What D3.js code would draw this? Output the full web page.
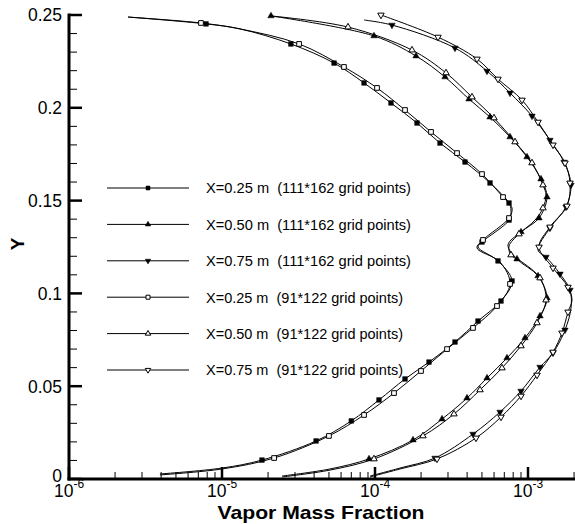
<!DOCTYPE html>
<html><head><meta charset="utf-8">
<script src="https://cdn.jsdelivr.net/npm/d3@7"></script>
<style>
body{margin:0;background:#fff}
svg{display:block}
text{font-family:"Liberation Sans",Arial,Helvetica,sans-serif;fill:#000}
</style>
</head><body>
<svg id="c" width="575" height="524"></svg>
<script>
// ---------- data ----------
const xDomain = [1e-6, 2e-3];
const yDomain = [0, 0.25];
const yTickValues = [0, 0.05, 0.1, 0.15, 0.2, 0.25];
const yTickLabels = ["0", "0.05", "0.1", "0.15", "0.2", "0.25"];
const xTickValues = [1e-6, 1e-5, 1e-4, 1e-3];
const xTickExponents = ["-6", "-5", "-4", "-3"];
const xAxisTitle = "Vapor Mass Fraction";
const yAxisTitle = "Y";
const legendLabels = [
  "X=0.25 m  (111*162 grid points)",
  "X=0.50 m  (111*162 grid points)",
  "X=0.75 m  (111*162 grid points)",
  "X=0.25 m  (91*122 grid points)",
  "X=0.50 m  (91*122 grid points)",
  "X=0.75 m  (91*122 grid points)"
];
// [vapor mass fraction, Y, symbol shown]
const x025fine = [
  [3.93e-6,0.0027,0],[1.0e-5,0.0059,0],[1.825e-5,0.0102,1],[4.12e-5,0.0205,1],[7.0e-5,0.0313,1],
  [1.062e-4,0.0426,1],[1.571e-4,0.0539,1],[2.254e-4,0.0630,1],[3.334e-4,0.0738,1],[4.713e-4,0.0851,1],
  [6.661e-4,0.0959,1],[7.862e-4,0.1067,1],[6.367e-4,0.1175,1],[4.713e-4,0.1250,0],[5.005e-4,0.1277,1],
  [7.514e-4,0.1395,1],[7.744e-4,0.1449,0],[7.514e-4,0.1487,1],[5.646e-4,0.1595,1],[3.875e-4,0.1708,1],
  [2.660e-4,0.1810,1],[1.882e-4,0.1918,1],[1.272e-4,0.2026,1],[8.48e-5,0.2134,1],[5.40e-5,0.2241,1],
  [2.82e-5,0.2344,1],[1.311e-5,0.2425,0],[7.86e-6,0.2452,1],[2.43e-6,0.2489,0]
];
const x050fine = [
  [2.47e-5,0.0016,0],[5.08e-5,0.0054,0],[9.14e-5,0.0108,1],[1.772e-4,0.0210,1],[2.742e-4,0.0323,1],
  [3.994e-4,0.0436,1],[5.397e-4,0.0544,1],[7.291e-4,0.0652,1],[9.559e-4,0.0760,1],[1.198e-3,0.0878,1],
  [1.331e-3,0.0975,1],[1.163e-3,0.1094,1],[8.476e-4,0.1185,1],[7.402e-4,0.1261,0],[9.002e-4,0.1331,1],
  [1.180e-3,0.1406,1],[1.331e-3,0.1519,1],[1.216e-3,0.1616,1],[9.85e-4,0.1735,1],[7.629e-4,0.1843,1],
  [5.646e-4,0.1950,1],[4.116e-4,0.2047,1],[2.868e-4,0.2166,1],[1.854e-4,0.2279,1],[9.85e-5,0.2387,1],
  [2.09e-5,0.2495,1]
];
const x075fine = [
  [9.28e-5,0.0016,0],[1.457e-4,0.0059,0],[2.467e-4,0.0113,1],[4.371e-4,0.0242,1],[6.562e-4,0.0361,1],
  [9.002e-4,0.0474,1],[1.198e-3,0.0603,1],[1.457e-3,0.0679,1],[1.745e-3,0.0803,1],[1.910e-3,0.0921,0],
  [1.881e-3,0.1018,1],[1.619e-3,0.1105,1],[1.311e-3,0.1196,1],[1.163e-3,0.1234,0],[1.392e-3,0.1352,1],
  [1.772e-3,0.1466,1],[1.910e-3,0.1584,1],[1.720e-3,0.1708,1],[1.392e-3,0.1826,1],[1.062e-3,0.1956,1],
  [7.629e-4,0.2080,1],[5.397e-4,0.2198,1],[3.334e-4,0.2322,1],[1.291e-4,0.2446,1],[8.48e-5,0.2473,0]
];
const x025coarse = [
  [3.93e-6,0.0022,0],[1.0e-5,0.0054,0],[2.19e-5,0.0113,1],[5.00e-5,0.0232,1],[8.48e-5,0.0345,1],
  [1.331e-4,0.0463,1],[1.998e-4,0.0582,1],[2.956e-4,0.0700,1],[4.371e-4,0.0814,1],[6.272e-4,0.0932,1],
  [7.629e-4,0.1051,1],[6.562e-4,0.1169,0],[4.642e-4,0.1245,0],[5.081e-4,0.1288,1],[7.514e-4,0.1406,1],
  [7.862e-4,0.1460,0],[6.865e-4,0.1519,1],[5.005e-4,0.1643,1],[3.436e-4,0.1756,1],[2.323e-4,0.1870,1],
  [1.571e-4,0.1988,1],[1.031e-4,0.2107,1],[6.27e-5,0.2220,1],[3.19e-5,0.2344,1],[1.311e-5,0.2425,0],
  [7.29e-6,0.2457,1],[2.43e-6,0.2489,0]
];
const x050coarse = [
  [2.47e-5,0.0011,0],[5.08e-5,0.0048,0],[9.85e-5,0.0108,1],[2.059e-4,0.0232,1],[3.283e-4,0.0350,1],
  [4.858e-4,0.0480,1],[6.763e-4,0.0598,1],[9.002e-4,0.0717,1],[1.145e-3,0.0841,1],[1.311e-3,0.0964,1],
  [1.198e-3,0.1083,1],[9.139e-4,0.1169,0],[7.744e-4,0.1207,1],[7.514e-4,0.1255,0],[8.735e-4,0.1320,1],
  [1.111e-3,0.1395,0],[1.253e-3,0.1460,1],[1.311e-3,0.1530,0],[1.253e-3,0.1584,1],[1.062e-3,0.1703,1],
  [8.225e-4,0.1816,1],[5.995e-4,0.1945,1],[4.306e-4,0.2058,1],[2.912e-4,0.2188,1],[1.745e-4,0.2311,1],
  [6.66e-5,0.2435,1],[2.09e-5,0.2495,0]
];
const x075coarse = [
  [9.28e-5,0.0011,0],[1.457e-4,0.0054,0],[2.542e-4,0.0108,1],[4.572e-4,0.0221,1],[6.661e-4,0.0334,1],
  [9.002e-4,0.0447,1],[1.145e-3,0.0560,1],[1.457e-3,0.0684,1],[1.668e-3,0.0787,1],[1.826e-3,0.0900,1],
  [1.939e-3,0.0964,0],[1.826e-3,0.1034,1],[1.457e-3,0.1137,1],[1.180e-3,0.1250,1],[1.392e-3,0.1358,1],
  [1.798e-3,0.1471,1],[1.881e-3,0.1595,1],[1.745e-3,0.1703,1],[1.457e-3,0.1800,1],[1.163e-3,0.1923,1],
  [9.139e-4,0.2042,1],[6.367e-4,0.2155,1],[4.642e-4,0.2263,1],[2.581e-4,0.2381,1],[1.094e-4,0.2500,1]
];

// ---------- drawing ----------
const svg = d3.select("#c");
const x = d3.scaleLog().domain(xDomain).range([69, 69 + 153 * Math.log10(xDomain[1] / xDomain[0])]);
const y = d3.scaleLinear().domain(yDomain).range([479, 15]);

const seriesList = [
  {data: x025fine,   sym: "square", fill: "#000"},
  {data: x050fine,   sym: "up",     fill: "#000"},
  {data: x075fine,   sym: "down",   fill: "#000"},
  {data: x025coarse, sym: "square", fill: "#fff"},
  {data: x050coarse, sym: "up",     fill: "#fff"},
  {data: x075coarse, sym: "down",   fill: "#fff"}
];

const line = d3.line().x(d => x(d[0])).y(d => y(d[1])).curve(d3.curveCatmullRom.alpha(0.5));

function symPath(kind, scale) {
  if (kind === "square") return d3.symbol(d3.symbolSquare, 22 * scale * scale)();
  return d3.symbol(d3.symbolTriangle, 18 * scale * scale)();
}
function symTransform(kind, px, py) {
  return kind === "down" ? `translate(${px},${py}) rotate(180)` : `translate(${px},${py})`;
}

const gLines = svg.append("g");
seriesList.forEach(s => {
  gLines.append("path").attr("d", line(s.data))
    .attr("fill", "none").attr("stroke", "#000").attr("stroke-width", 1);
});
seriesList.forEach(s => {
  gLines.selectAll(null).data(s.data.filter(d => d[2])).enter().append("path")
    .attr("d", symPath(s.sym, 1))
    .attr("transform", d => symTransform(s.sym, x(d[0]), y(d[1])))
    .attr("fill", s.fill).attr("stroke", "#000")
    .attr("stroke-width", s.fill === "#000" ? 0.5 : 1);
});

// axes
const gAx = svg.append("g");
const x0 = x.range()[0];
const yb = y(0);
gAx.append("line").attr("x1", x0).attr("x2", x0).attr("y1", y(0.25) - 1.5).attr("y2", yb + 1.5)
  .attr("stroke", "#000").attr("stroke-width", 3);
gAx.append("line").attr("x1", x0 - 1.5).attr("x2", 575).attr("y1", yb).attr("y2", yb)
  .attr("stroke", "#000").attr("stroke-width", 3);
const yMinor = d3.range(1, 25).map(i => i / 100).filter(v => Math.abs(v * 20 - Math.round(v * 20)) > 1e-6);
gAx.selectAll(null).data(yMinor).enter().append("line")
  .attr("x1", x0).attr("x2", x0 + 8).attr("y1", d => y(d)).attr("y2", d => y(d))
  .attr("stroke", "#000").attr("stroke-width", 1);
gAx.selectAll(null).data(yTickValues).enter().append("line")
  .attr("x1", x0).attr("x2", x0 + 13).attr("y1", d => y(d)).attr("y2", d => y(d))
  .attr("stroke", "#000").attr("stroke-width", 2.5);
gAx.selectAll(null).data(yTickValues).enter().append("text")
  .attr("x", 62).attr("y", d => y(d) - (d === 0 ? 3 : 0)).attr("dy", "0.36em")
  .attr("text-anchor", "end").attr("font-size", 17.5)
  .text((d, i) => yTickLabels[i]);
const xMinor = [];
[-6, -5, -4, -3].forEach(e => { for (let k = 2; k <= 9; k++) { const v = k * Math.pow(10, e); if (v <= xDomain[1] * 1.0001) xMinor.push(v); } });
gAx.selectAll(null).data(xMinor).enter().append("line")
  .attr("x1", d => x(d)).attr("x2", d => x(d)).attr("y1", yb).attr("y2", yb - 7)
  .attr("stroke", "#000").attr("stroke-width", 1);
gAx.selectAll(null).data(xTickValues).enter().append("line")
  .attr("x1", d => x(d)).attr("x2", d => x(d)).attr("y1", yb).attr("y2", yb - 12)
  .attr("stroke", "#000").attr("stroke-width", 2.5);
const xt = gAx.selectAll(null).data(xTickValues).enter().append("text")
  .attr("x", d => x(d)).attr("y", 497).attr("text-anchor", "middle").attr("font-size", 17.5);
xt.append("tspan").text("10");
xt.append("tspan").attr("dy", -9).attr("font-size", 12).text((d, i) => xTickExponents[i]);

// axis titles
svg.append("text").attr("x", 321).attr("y", 518.5).attr("text-anchor", "middle")
  .attr("font-size", 18.5).attr("font-weight", "bold")
  .attr("textLength", 207).attr("lengthAdjust", "spacingAndGlyphs").text(xAxisTitle);
svg.append("text").attr("transform", "translate(24,244) rotate(-90)").attr("text-anchor", "middle")
  .attr("font-size", 19).attr("font-weight", "bold").text(yAxisTitle);

// legend
const legendWidths = [205, 205, 205, 197, 197, 197];
const gLeg = svg.append("g");
seriesList.forEach((s, i) => {
  const ly = 188 + i * 36.4;
  gLeg.append("line").attr("x1", 107).attr("x2", 189).attr("y1", ly).attr("y2", ly)
    .attr("stroke", "#000").attr("stroke-width", 1);
  gLeg.append("path").attr("d", symPath(s.sym, 0.85))
    .attr("transform", symTransform(s.sym, 148, ly))
    .attr("fill", s.fill).attr("stroke", "#000").attr("stroke-width", s.fill === "#000" ? 0.5 : 1);
  gLeg.append("text").attr("x", 206).attr("y", ly).attr("dy", "0.36em")
    .attr("font-size", 15).style("white-space", "pre")
    .attr("textLength", legendWidths[i]).attr("lengthAdjust", "spacingAndGlyphs")
    .text(legendLabels[i]);
});
</script>
</body></html>
